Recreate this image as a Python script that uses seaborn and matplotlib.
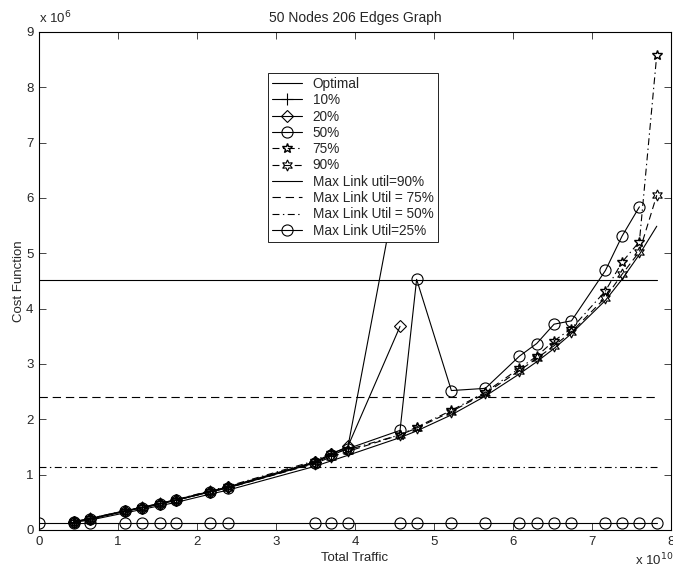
import numpy as np
import pandas as pd
import matplotlib
matplotlib.use("Agg")
import matplotlib.pyplot as plt
import seaborn as sns

# traffic points (x 1e10) and cost values (x 1e6)
traffic = [0.44, 0.65, 1.09, 1.30, 1.53, 1.74, 2.17, 2.39, 3.49, 3.70, 3.91,
           4.57, 4.78, 5.22, 5.65, 6.08, 6.30, 6.52, 6.74, 7.17, 7.38, 7.60, 7.82]

optimal = [0.14, 0.18, 0.31, 0.37, 0.44, 0.50, 0.65, 0.72, 1.15, 1.25, 1.35,
           1.67, 1.79, 2.08, 2.42, 2.82, 3.04, 3.28, 3.55, 4.15, 4.53, 4.98, 5.49]
p10 = [0.15, 0.21, 0.35, 0.41, 0.48, 0.55, 0.70, 0.78, 1.23, 1.38, 1.50, 6.50]
p20 = [0.15, 0.20, 0.34, 0.40, 0.47, 0.54, 0.69, 0.77, 1.22, 1.37, 1.51, 3.68]
p50 = [0.15, 0.20, 0.34, 0.40, 0.47, 0.54, 0.69, 0.76, 1.21, 1.35, 1.47,
       1.80, 4.53, 2.52, 2.56, 3.14, 3.37, 3.72, 3.78, 4.69, 5.31, 5.84]
p75 = [0.15, 0.21, 0.35, 0.41, 0.48, 0.55, 0.71, 0.79, 1.25, 1.40, 1.45,
       1.72, 1.86, 2.16, 2.49, 2.92, 3.14, 3.42, 3.64, 4.32, 4.84, 5.21, 8.59]
p90 = [0.15, 0.20, 0.34, 0.40, 0.47, 0.54, 0.69, 0.76, 1.20, 1.32, 1.42,
       1.72, 1.84, 2.14, 2.47, 2.88, 3.10, 3.33, 3.58, 4.20, 4.62, 5.03, 6.05]

# max link utilisation limits
util_span = [0.0, 7.82]
util90 = 4.52
util75 = 2.41
util50 = 1.13
util25 = 0.12
util25_x = [0.0] + traffic

sns.set_style("ticks")
plt.rcParams['font.family'] = ['Liberation Sans', 'DejaVu Sans']
plt.rcParams['lines.scale_dashes'] = False

fig = plt.figure(figsize=(6.73, 5.70), dpi=100)
ax = fig.add_axes([39/673, 40/570, 632/673, 498/570])

lw = 0.8
ms = 8
common = dict(color='black', linewidth=lw, markersize=ms, markerfacecolor='none',
              markeredgecolor='black', markeredgewidth=0.8, estimator=None, sort=False, ax=ax)

sns.lineplot(x=traffic, y=optimal, label='Optimal', **common)
sns.lineplot(x=traffic[:len(p10)], y=p10, marker='+', label='10%', **common)
sns.lineplot(x=traffic[:len(p20)], y=p20, marker='D', label='20%',
             **{**common, 'markersize': 6.5})
sns.lineplot(x=traffic[:len(p50)], y=p50, marker='o', label='50%', **common)
sns.lineplot(x=traffic, y=p75, marker='*', linestyle=(0, (5, 2.5, 1, 2.5)),
             label='75%', **{**common, 'markersize': 7.5, 'markeredgewidth': 1.0})
sns.lineplot(x=traffic, y=p90, marker=(6, 1, 0), linestyle=(0, (5, 3)),
             label='90%', **common)

sns.lineplot(x=util_span, y=[util90, util90], label='Max Link util=90%', **common)
sns.lineplot(x=util_span, y=[util75, util75], linestyle=(0, (6, 3.5)),
             label='Max Link Util = 75%', **common)
sns.lineplot(x=util_span, y=[util50, util50], linestyle=(0, (5, 2.5, 1, 2.5)),
             label='Max Link Util = 50%', **common)
sns.lineplot(x=util25_x, y=[util25] * len(util25_x), marker='o',
             label='Max Link Util=25%', **common)

ax.set_xlim(0, 8)
ax.set_ylim(0, 9)
ax.set_xticks(range(0, 9))
ax.set_yticks(range(0, 10))
ax.tick_params(direction='in', length=5, width=0.6, top=True, right=True,
               labelsize=9.5, pad=4)
for s in ax.spines.values():
    s.set_visible(True)
    s.set_linewidth(0.8)
    s.set_color('black')

ax.set_title('50 Nodes 206 Edges Graph', fontsize=10, pad=7)
ax.set_xlabel('Total Traffic', fontsize=9.5, labelpad=3)
ax.set_ylabel('Cost Function', fontsize=9.5, labelpad=1)
ax.text(0.0, 1.012, r'x 10$^{6}$', transform=ax.transAxes, fontsize=9.5,
        ha='left', va='bottom')
fig.text(635/673, 2/570, r'x 10$^{10}$', fontsize=9.5, ha='left', va='bottom')

leg = ax.legend(loc='upper left', bbox_to_anchor=(0.362, 0.918), fontsize=9.8,
                frameon=True, fancybox=False, framealpha=1, edgecolor='black',
                handlelength=2.2, handletextpad=0.8, labelspacing=0.17,
                borderpad=0.3, borderaxespad=0)
leg.get_frame().set_linewidth(0.6)

fig.savefig('out.png', dpi=100, facecolor='white')
